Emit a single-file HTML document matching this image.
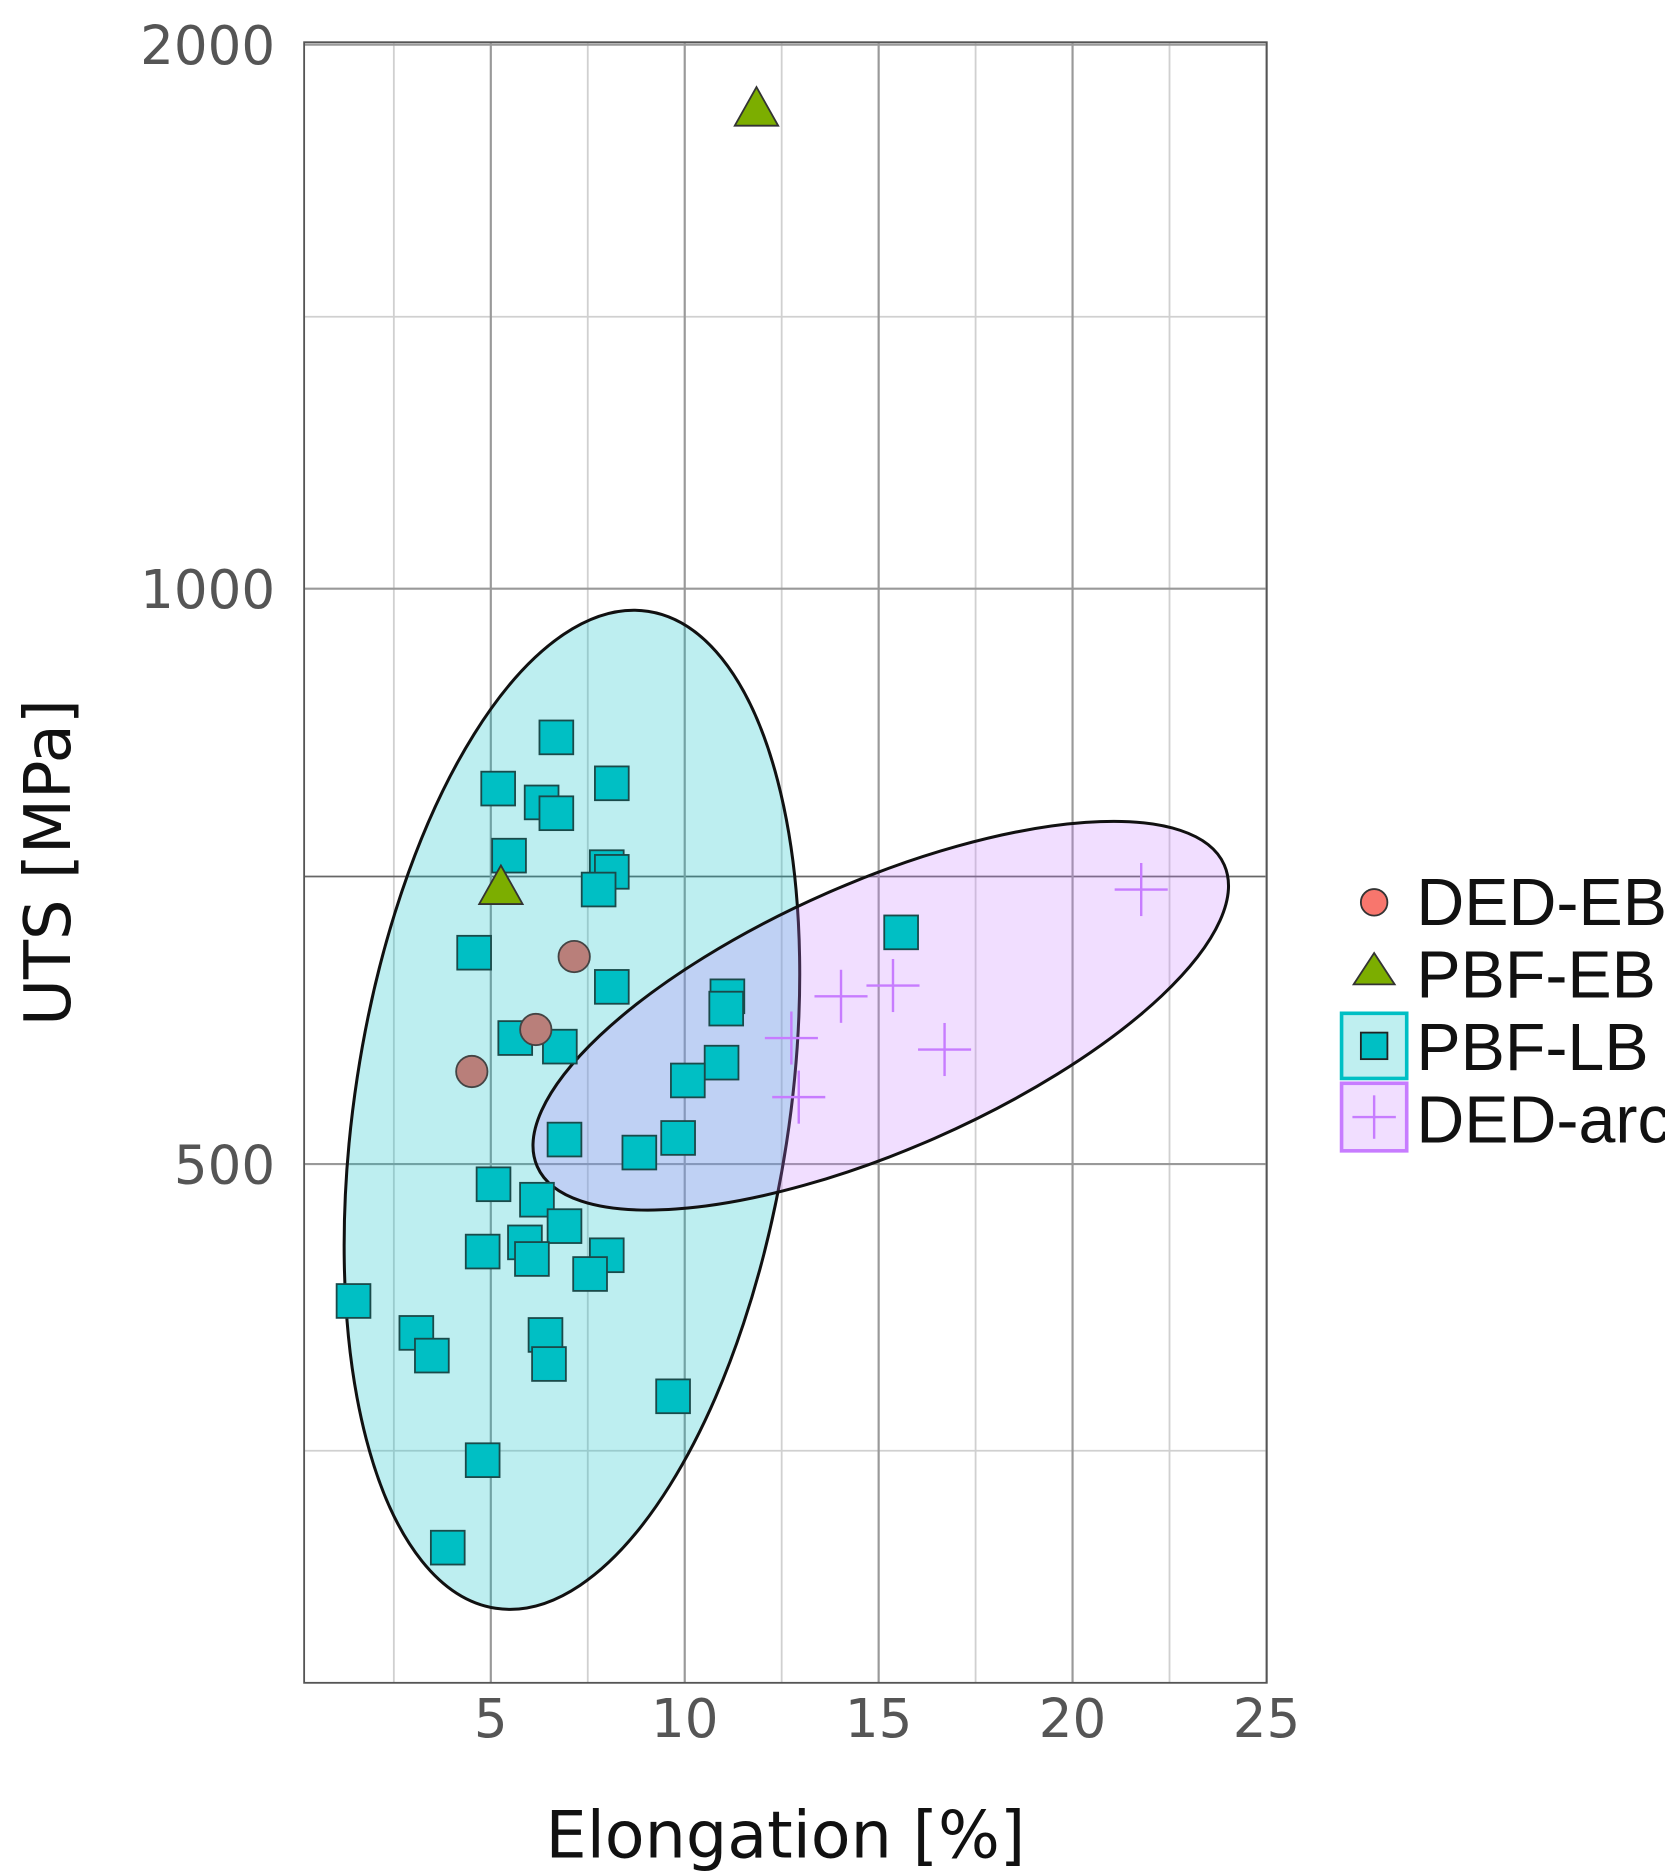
<!DOCTYPE html>
<html><head><meta charset="utf-8"><style>
html,body{margin:0;padding:0;background:#fff;}
svg{display:block;font-family:"Liberation Sans",sans-serif;}
</style></head><body>
<svg id="chart" width="1665" height="1871" viewBox="0 0 1380 1551" xmlns="http://www.w3.org/2000/svg">
<g id="grid"></g>
<g id="ellipses">
<ellipse cx="474" cy="920" rx="180" ry="418" transform="rotate(8.7 474 920)" fill="#00bfc4" fill-opacity="0.26" stroke="#111" stroke-width="2.5"/>
<ellipse cx="730" cy="842" rx="311" ry="111" transform="rotate(-23.7 730 842)" fill="#c77cff" fill-opacity="0.25" stroke="#111" stroke-width="2.5"/>
</g>
<g id="points"></g>
<rect x="252" y="35" width="798" height="1360" fill="none" stroke="#555" stroke-width="1.5"/>
<g id="ticks"></g>
<text x="651" y="1540" font-size="54" font-family="DejaVu Sans, sans-serif" text-anchor="middle" fill="#111">Elongation [%]</text>
<text transform="translate(58 715) rotate(-90)" font-size="53" font-family="DejaVu Sans, sans-serif" text-anchor="middle" fill="#111">UTS [MPa]</text>
<g id="legend">
<g>
<circle cx="1139" cy="748" r="11" fill="#f8766d" stroke="#333" stroke-width="1.5"/>
<text x="1174" y="767" font-size="55" fill="#111">DED-EB</text></g>
<g>
<polygon points="1139,790 1156,816 1122,816" fill="#7cae00" stroke="#333" stroke-width="1.5"/>
<text x="1174" y="827" font-size="55" fill="#111">PBF-EB</text></g>
<g>
<rect x="1112" y="840" width="54" height="54" fill="#00bfc4" fill-opacity="0.25" stroke="#00bfc4" stroke-width="3"/>
<rect x="1128" y="856" width="22" height="22" fill="#00bfc4" stroke="#222" stroke-width="1.5"/>
<text x="1174" y="887" font-size="55" fill="#111">PBF-LB</text></g>
<g>
<rect x="1112" y="898" width="54" height="56" fill="#c77cff" fill-opacity="0.25" stroke="#c77cff" stroke-width="3"/>
<line x1="1121" y1="926" x2="1157" y2="926" stroke="#c77cff" stroke-width="2"/>
<line x1="1139" y1="908" x2="1139" y2="944" stroke="#c77cff" stroke-width="2"/>
<text x="1174" y="947" font-size="55" fill="#111">DED-arc</text></g>
</g>
</svg>
<script>
const xTicks = [5, 10, 15, 20, 25];
const xMinor = [2.5, 7.5, 12.5, 17.5, 22.5];
const yTicks = [500, 1000, 2000];
const yMinor = [354, 707, 1414];
const dedEbX = [7.15, 6.16, 4.51];
const dedEbY = [642, 588, 559];
const pbfEbX = [11.85, 5.26];
const pbfEbY = [1843, 698];
const dedArcX = [21.77, 15.37, 14.03, 12.75, 16.7, 12.94];
const dedArcY = [696, 620, 612, 582, 574, 542];
const pbfLbX = [6.69,5.19,8.12,6.31,6.69,5.47,7.99,8.12,7.78,4.57,15.58,8.12,11.1,11.07,5.63,6.78,10.95,10.08,6.9,9.83,8.83,5.07,6.19,6.9,5.88,6.06,4.79,7.99,7.56,1.46,3.08,3.48,6.41,6.5,9.7,4.79,3.89];
const pbfLbY = [836,786,791,773,763,725,715,711,696,645,661,619,612,603,582,576,565,553,515,516,507,488,479,464,455,446,450,448,438,424,408,397,407,393,378,350,315];

const NS = "http://www.w3.org/2000/svg";
function sx(v){ return 246 + v * 32.15; }
function sy(v){
  const l = Math.log2(v / 1000);
  return l >= 0 ? 488 - l * 451 : 488 - l * 477;
}
function mk(tag, attrs, parent){
  const e = document.createElementNS(NS, tag);
  for (const k in attrs) e.setAttribute(k, attrs[k]);
  parent.appendChild(e);
  return e;
}
const grid = document.getElementById('grid');
const ticks = document.getElementById('ticks');
const pts = document.getElementById('points');

xMinor.forEach(v => {
  const l = mk('line', {x1: sx(v), x2: sx(v), y1: 35, y2: 1395, stroke: '#d0d0d0', 'stroke-width': 1.5}, grid);
  
  
});
yMinor.forEach(v => {
  const l = mk('line', {x1: 252, x2: 1050, y1: sy(v), y2: sy(v), stroke: v === 707 ? '#666' : '#d0d0d0', 'stroke-width': 1.5}, grid);
  
  
});
xTicks.forEach(v => {
  const l = mk('line', {x1: sx(v), x2: sx(v), y1: 35, y2: 1395, stroke: '#999', 'stroke-width': 1.8}, grid);
  
  
  const t = mk('text', {x: sx(v), y: 1440, 'font-size': 44, 'font-family': 'DejaVu Sans, sans-serif', 'text-anchor': 'middle', fill: '#555'}, ticks);
  t.textContent = v;
  
  
});
yTicks.forEach(v => {
  const l = mk('line', {x1: 252, x2: 1050, y1: sy(v), y2: sy(v), stroke: '#999', 'stroke-width': 1.8}, grid);
  
  
  const t = mk('text', {x: 228, y: sy(v) + 16, 'font-size': 44, 'font-family': 'DejaVu Sans, sans-serif', 'text-anchor': 'end', fill: '#555'}, ticks);
  t.textContent = v;
  
  
});

pbfLbX.forEach((v, i) => {
  const x = sx(v), y = sy(pbfLbY[i]);
  const r = mk('rect', {x: x - 14, y: y - 14, width: 28, height: 28, fill: '#00bfc4', stroke: '#1a4a4a', 'stroke-width': 1.5}, pts);
  
  
});
dedEbX.forEach((v, i) => {
  const c = mk('circle', {cx: sx(v), cy: sy(dedEbY[i]), r: 13, fill: '#b97f7a', stroke: '#444', 'stroke-width': 1.5}, pts);
  
  
});
pbfEbX.forEach((v, i) => {
  const x = sx(v), y = sy(pbfEbY[i]);
  const p = mk('polygon', {points: `${x},${y-18} ${x+18},${y+14} ${x-18},${y+14}`, fill: '#7cae00', stroke: '#333', 'stroke-width': 1.5}, pts);
  
  
});
dedArcX.forEach((v, i) => {
  const x = sx(v), y = sy(dedArcY[i]);
  const g = mk('g', {}, pts);
  
  
  mk('line', {x1: x - 22, x2: x + 22, y1: y, y2: y, stroke: '#c77cff', 'stroke-width': 2}, g);
  mk('line', {x1: x, x2: x, y1: y - 22, y2: y + 22, stroke: '#c77cff', 'stroke-width': 2}, g);
});
</script>
</body></html>
